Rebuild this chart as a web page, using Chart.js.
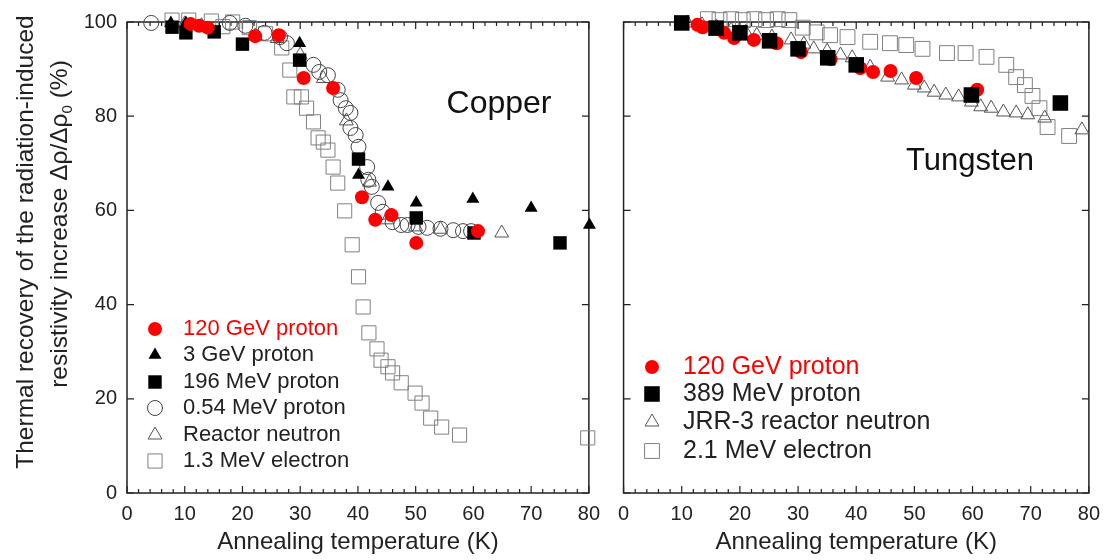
<!DOCTYPE html>
<html>
<head>
<meta charset="utf-8">
<script src="https://cdn.jsdelivr.net/npm/chart.js@4.4.1/dist/chart.umd.min.js"></script>
<style>
    body { margin: 0; background: #fff; width: 1109px; height: 560px; overflow: hidden; position: relative;
           font-family: "Liberation Sans", Arial, Helvetica, sans-serif; color: #222; }
    #cu { position: absolute; left: 0; top: 0; }
    #w  { position: absolute; left: 609px; top: 0; }
    .ytitle { position: absolute; white-space: nowrap; font-size: 24.5px; line-height: 1;
              transform: translate(-50%, -50%) rotate(-90deg); }
    .ytitle sub { font-size: 15px; vertical-align: -5px; }
</style>
</head>
<body>
<canvas id="cu" width="609" height="560"></canvas>
<canvas id="w" width="500" height="560"></canvas>
<div class="ytitle" style="left:25px; top:242px;">Thermal recovery of the radiation-induced</div>
<div class="ytitle" style="left:60px; top:224px;">resistivity increase Δρ/Δρ<sub>0</sub> (%)</div>

<script>
const FONT = '"Liberation Sans", Arial, Helvetica, sans-serif';

// ── Copper (painel esquerdo) ──
const CU_120GEV_T = [11, 12.5, 14, 22.2, 26.3, 30.6, 35.7, 40.7, 43, 45.8, 50.1, 60.8];
const CU_120GEV_V = [99.6, 99.2, 98.8, 97, 97.2, 88.1, 86, 62.8, 58, 59, 53.1, 55.6];

const CU_3GEV_T = [7.6, 10.2, 29.9, 35.7, 40.1, 45.2, 50.1, 59.9, 70, 80.1];
const CU_3GEV_V = [99.8, 99.8, 95.5, 86, 67.5, 65, 61.6, 62.4, 60.5, 56.9];

const CU_196MEV_T = [7.8, 10.2, 15.1, 20, 29.9, 40.1, 50.1, 60.1, 75];
const CU_196MEV_V = [98.9, 97.7, 97.9, 95.3, 91.9, 70.9, 58.4, 55.2, 53.1];

const CU_054MEV_T = [4.2, 17.8, 20.5, 23.8, 26.5, 27.7, 32.3, 33.3, 34.8, 36.5, 37, 37.9, 38.7, 38.7, 39.6,
                     40.1, 41.6, 41.8, 42.4, 43.5, 44.3, 46, 47.5, 48.6, 50.5, 52, 54.3, 56.5, 58.2, 59.6];
const CU_054MEV_V = [99.8, 99.8, 99.2, 97.7, 96.8, 95.5, 90.9, 89.4, 88.7, 85.6, 83.4, 81.7, 80.7, 77.5, 76,
                     73.5, 69.2, 66.5, 65, 61.6, 59.7, 57.5, 56.9, 56.9, 56.5, 56.3, 56.1, 55.8, 55.6, 55.6];

const CU_NEUT_T = [10, 12.9, 22.2, 26, 30, 34, 38, 42, 45, 50, 54.3, 64.9];
const CU_NEUT_V = [99.6, 99.2, 97, 96.5, 93, 88, 79, 66, 58, 56.5, 56, 55.2];

const CU_ELEC_T = [7.8, 10.7, 14.6, 16.6, 18.3, 21.2, 24, 26.8, 28.2, 28.9, 30.2, 31.1, 32.3, 33.1, 34, 34.8, 35.7,
                   36.5, 37.7, 39, 40.1, 40.9, 41.9, 43.3, 44, 45.2, 46, 47.5, 49.9, 51.1, 52.6, 54.5, 57.6, 79.8];
const CU_ELEC_V = [100.4, 100.4, 100.2, 99, 100, 98.8, 97.5, 94.5, 89.8, 84.1, 84.1, 81.7, 78.8, 75.4, 74.5, 72.8, 69.2,
                   65.8, 59.9, 52.7, 45.9, 39.5, 34, 30.6, 28.2, 26.8, 25.5, 23.4, 21.2, 19.1, 15.9, 14, 12.3, 11.7];

// ── Tungsten (painel direito) ──
const W_120GEV_T = [12.7, 13.6, 17.3, 19, 22.4, 26.3, 30.5, 35.6, 40.7, 42.9, 45.9, 50.3, 60.8];
const W_120GEV_V = [99.4, 98.9, 97.7, 96.6, 96.2, 95.5, 93.6, 92.1, 90.2, 89.4, 89.6, 88.1, 85.6];

const W_389MEV_T = [10, 15.9, 20, 25.1, 30, 35.1, 40, 59.8, 75.1];
const W_389MEV_V = [99.8, 98.7, 97.7, 96, 94.3, 92.4, 90.9, 84.5, 82.8];

const W_JRR3_T = [11, 13.5, 16, 18.5, 21, 22.9, 25.5, 28.8, 31, 32.7, 35, 37.3, 39.3, 42.4, 45.4, 47.8, 50,
                  51.7, 53.4, 55.4, 57.6, 59.8, 61.4, 63.2, 65.3, 67.5, 69.5, 72.4, 78.8];
const W_JRR3_V = [99.8, 99.4, 98.9, 98.3, 97.8, 97.2, 96.8, 96.2, 95.3, 94.3, 93.8, 93, 92.4, 90.4, 88.3, 87.7, 86.6,
                  86, 85.1, 84.5, 84.1, 83, 82, 81.7, 80.9, 80.7, 80.3, 79.6, 77.1];

const W_ELEC_T = [14.5, 16.5, 18.5, 20.5, 22.5, 24.5, 26.5, 28.5, 30.8, 33.2, 35.5, 38.5, 42.4, 45.8, 48.6, 51.4,
                  55.6, 58.8, 62.4, 65.8, 67.5, 69, 70.3, 71.5, 72.9, 76.6];
const W_ELEC_V = [100.6, 100.4, 100.6, 100.4, 100.6, 100.4, 100.6, 100.4, 98.8, 97.8, 97.2, 96.8, 95.8, 95.5, 95.1, 94.3,
                  93.4, 93.4, 92.6, 90.9, 88.3, 86.6, 84.3, 81.7, 77.7, 75.8];

const X_TICKS = { min: 0, max: 80, major: 10, minor: 2 };
const Y_TICKS = { min: 0, max: 100, major: 20 };

// estilos dos marcadores
const RED    = { shape: 'circle',   r: 7,   fill: '#f00', stroke: '#f00', lw: 0,   text: '#f00' };
const TRI    = { shape: 'triangle', r: 7.5, fill: '#000', stroke: '#000', lw: 0,   text: '#222' };
const SQ     = { shape: 'rect',     r: 9.5, fill: '#000', stroke: '#000', lw: 0,   text: '#222' };
const OCIRC  = { shape: 'circle',   r: 7.5, fill: 'rgba(0,0,0,0)', stroke: '#444', lw: 1, text: '#222' };
const OTRI   = { shape: 'triangle', r: 8,   fill: 'rgba(0,0,0,0)', stroke: '#555', lw: 1, text: '#222' };
const OSQ    = { shape: 'rect',     r: 10,  fill: 'rgba(0,0,0,0)', stroke: '#808080', lw: 1, text: '#222' };

function pts(xs, ys) {
    return xs.map((x, i) => ({ x, y: ys[i] }));
}

function serie(label, xs, ys, s) {
    return {
        label, data: pts(xs, ys), showLine: false, clip: false,
        pointStyle: s.shape, pointRadius: s.r, pointHoverRadius: s.r,
        pointBackgroundColor: s.fill, pointBorderColor: s.stroke, pointBorderWidth: s.lw,
        _style: s
    };
}

function drawMarker(ctx, s, x, y) {
    ctx.save();
    ctx.beginPath();
    if (s.shape === 'circle') {
        ctx.arc(x, y, s.r, 0, Math.PI * 2);
    } else if (s.shape === 'rect') {
        const h = s.r * Math.SQRT1_2;
        ctx.rect(x - h, y - h, 2 * h, 2 * h);
    } else {
        for (let k = 0; k < 3; k++) {
            const a = k * 2 * Math.PI / 3;
            const px = x + Math.sin(a) * s.r, py = y - Math.cos(a) * s.r;
            k === 0 ? ctx.moveTo(px, py) : ctx.lineTo(px, py);
        }
        ctx.closePath();
    }
    ctx.fillStyle = s.fill; ctx.fill();
    if (s.lw) { ctx.lineWidth = s.lw; ctx.strokeStyle = s.stroke; ctx.stroke(); }
    ctx.restore();
}

// ── Moldura + ticks internos ──
const framePlugin = {
    id: 'frame',
    beforeDatasetsDraw(chart) {
        const { ctx, chartArea: a, scales: { x, y } } = chart;
        ctx.save();
        ctx.strokeStyle = '#222';
        ctx.lineWidth = 1.5;
        ctx.strokeRect(a.left, a.top, a.right - a.left, a.bottom - a.top);
        ctx.beginPath();
        for (let v = X_TICKS.min; v <= X_TICKS.max; v += X_TICKS.minor) {
            const px = x.getPixelForValue(v);
            const len = v % X_TICKS.major === 0 ? 7 : 4;
            ctx.moveTo(px, a.bottom); ctx.lineTo(px, a.bottom - len);
            ctx.moveTo(px, a.top);    ctx.lineTo(px, a.top + len);
        }
        for (let v = Y_TICKS.min; v <= Y_TICKS.max; v += Y_TICKS.major) {
            const py = y.getPixelForValue(v);
            ctx.moveTo(a.left, py);  ctx.lineTo(a.left + 7, py);
            ctx.moveTo(a.right, py); ctx.lineTo(a.right - 7, py);
        }
        ctx.lineWidth = 1.2;
        ctx.stroke();
        ctx.restore();
    }
};

// ── Legenda e rótulo do metal ──
const notesPlugin = {
    id: 'notes',
    afterDatasetsDraw(chart, args, o) {
        const ctx = chart.ctx;
        ctx.save();
        ctx.textBaseline = 'middle';
        ctx.textAlign = 'left';
        ctx.font = `${o.fontSize}px ${FONT}`;
        o.order.forEach((idx, i) => {
            const ds = chart.data.datasets[idx];
            const y = o.rows[i];
            drawMarker(ctx, ds._style, o.markerX, y);
            ctx.fillStyle = ds._style.text;
            ctx.fillText(ds.label, o.textX, y);
        });
        ctx.textAlign = 'center';
        ctx.fillStyle = '#111';
        ctx.font = `${o.metalSize}px ${FONT}`;
        ctx.fillText(o.metal, o.metalX, o.metalY);
        ctx.restore();
    }
};

function makeOptions(yLabels, yWidth, padRight, notes) {
    return {
        responsive: false,
        animation: false,
        events: [],
        layout: { padding: { top: 22, right: padRight, left: 0, bottom: 0 } },
        plugins: { legend: { display: false }, tooltip: { enabled: false }, notes },
        scales: {
            x: {
                type: 'linear', min: X_TICKS.min, max: X_TICKS.max,
                grid: { display: false, drawTicks: false }, border: { display: false },
                ticks: { stepSize: X_TICKS.major, color: '#222', padding: 9, maxRotation: 0, autoSkip: false,
                         font: { size: 20, family: FONT } },
                title: { display: true, text: 'Annealing temperature (K)', color: '#222',
                         font: { size: 24, family: FONT }, padding: { top: 0, bottom: 3 } },
                afterFit(s) { s.height = 67; }
            },
            y: {
                type: 'linear', min: Y_TICKS.min, max: Y_TICKS.max,
                grid: { display: false, drawTicks: false }, border: { display: false },
                ticks: { display: yLabels, stepSize: Y_TICKS.major, color: '#222', padding: 10,
                         font: { size: 20, family: FONT } },
                afterFit(s) { s.width = yWidth; }
            }
        }
    };
}

// datasets: o primeiro fica por cima
new Chart(document.getElementById('cu'), {
    type: 'scatter',
    data: {
        datasets: [
            serie('120 GeV proton',   CU_120GEV_T, CU_120GEV_V, RED),
            serie('196 MeV proton',   CU_196MEV_T, CU_196MEV_V, SQ),
            serie('3 GeV proton',     CU_3GEV_T,   CU_3GEV_V,   TRI),
            serie('0.54 MeV proton',  CU_054MEV_T, CU_054MEV_V, OCIRC),
            serie('Reactor neutron',  CU_NEUT_T,   CU_NEUT_V,   OTRI),
            serie('1.3 MeV electron', CU_ELEC_T,   CU_ELEC_V,   OSQ),
        ]
    },
    options: makeOptions(true, 127, 10, {
        order: [0, 2, 1, 3, 4, 5], rows: [329, 355, 382, 408, 435, 461],
        markerX: 155, textX: 183, fontSize: 22,
        metal: 'Copper', metalX: 499, metalY: 104, metalSize: 32
    }),
    plugins: [framePlugin, notesPlugin]
});

new Chart(document.getElementById('w'), {
    type: 'scatter',
    data: {
        datasets: [
            serie('389 MeV proton',         W_389MEV_T, W_389MEV_V, { ...SQ, r: 11 }),
            serie('120 GeV proton',         W_120GEV_T, W_120GEV_V, RED),
            serie('JRR-3 reactor neutron',  W_JRR3_T,   W_JRR3_V,   OTRI),
            serie('2.1 MeV electron',       W_ELEC_T,   W_ELEC_V,   { ...OSQ, r: 10.5 }),
        ]
    },
    options: makeOptions(false, 11, 17, {
        order: [1, 0, 2, 3], rows: [367, 394, 422, 451],
        markerX: 43, textX: 74, fontSize: 25,
        metal: 'Tungsten', metalX: 361, metalY: 161, metalSize: 31
    }),
    plugins: [framePlugin, notesPlugin]
});
</script>
</body>
</html>
